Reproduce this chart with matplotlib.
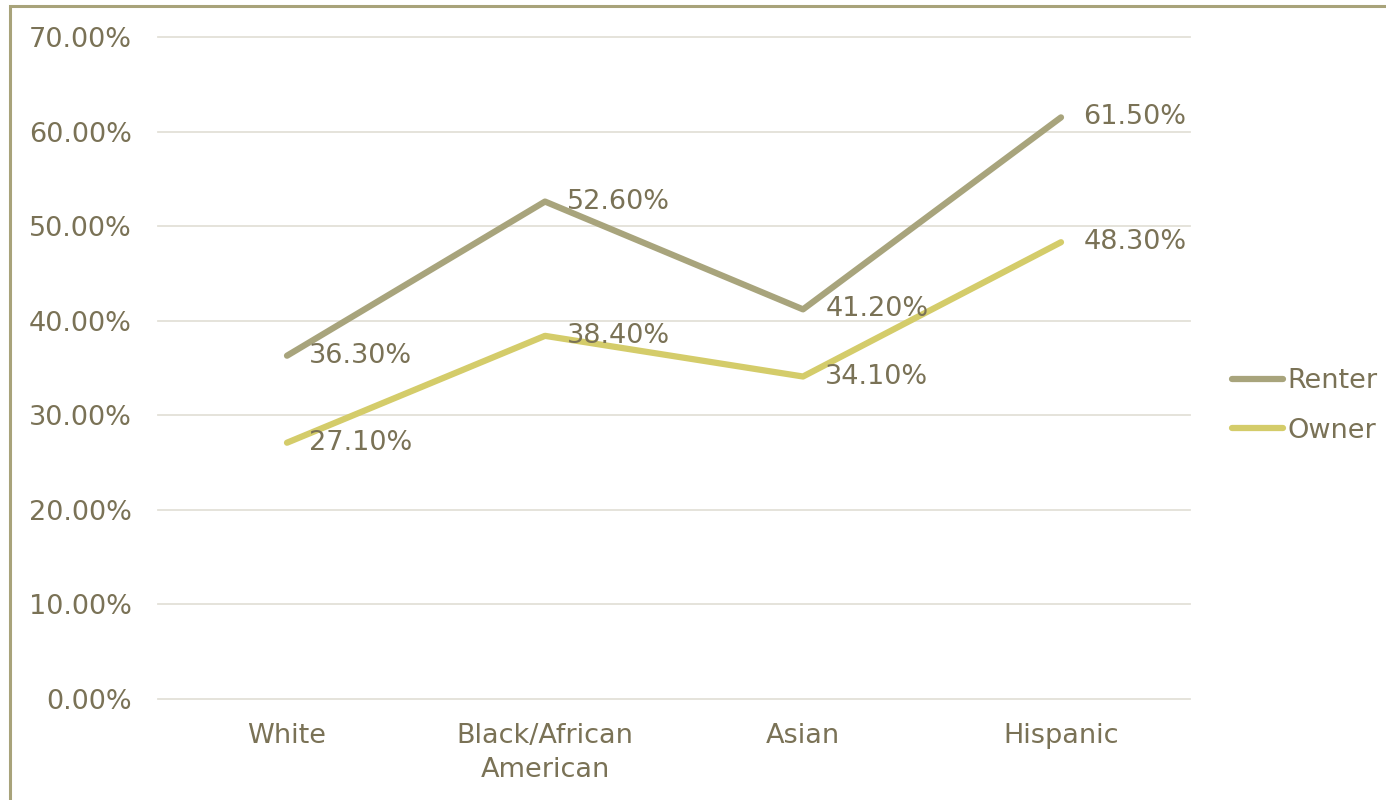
import matplotlib
matplotlib.use("Agg")
import matplotlib.pyplot as plt
from matplotlib.patches import Rectangle
from matplotlib.lines import Line2D

categories = ["White", "Black/African\nAmerican", "Asian", "Hispanic"]
renter = [36.3, 52.6, 41.2, 61.5]
owner = [27.1, 38.4, 34.1, 48.3]
yticks = [0, 10, 20, 30, 40, 50, 60, 70]

text_color = "#7A7256"
renter_color = "#A8A47C"
owner_color = "#D4CC6A"
grid_color = "#E3E1D8"
border_color = "#A8A37A"

plt.rcParams['font.family'] = ['DejaVu Sans']
FS = 19.5

W, H = 1386, 800
fig = plt.figure(figsize=(W / 100, H / 100), dpi=100)
fig.patches.append(Rectangle((10 / W, -0.1), 1.2, 1 - 6 / H + 0.1, transform=fig.transFigure,
                             fill=False, edgecolor=border_color, linewidth=2.2))

ax = fig.add_axes([158 / W, 1 - 699 / H, (1190 - 158) / W, (699 - 37) / H])
x = list(range(len(categories)))
ax.plot(x, renter, color=renter_color, lw=4.5, solid_capstyle='round', solid_joinstyle='round', label="Renter")
ax.plot(x, owner, color=owner_color, lw=4.5, solid_capstyle='round', solid_joinstyle='round', label="Owner")

for xi, v in zip(x, renter):
    ax.annotate(f"{v:.2f}%", (xi, v), xytext=(16, 0), textcoords='offset points',
                va='center', ha='left', fontsize=FS, color=text_color)
for xi, v in zip(x, owner):
    ax.annotate(f"{v:.2f}%", (xi, v), xytext=(16, 0), textcoords='offset points',
                va='center', ha='left', fontsize=FS, color=text_color)

ax.set_xlim(-0.5, 3.5)
ax.set_ylim(0, 70)
ax.set_yticks(yticks)
ax.set_yticklabels([f"{t:.2f}%" for t in yticks])
ax.set_xticks(x)
ax.set_xticklabels(categories, linespacing=1.4)
ax.tick_params(axis='both', length=0, labelsize=FS, labelcolor=text_color)
ax.tick_params(axis='y', pad=19)
ax.tick_params(axis='x', pad=17)
ax.grid(axis='y', color=grid_color, lw=1.3)
for gl in ax.get_ygridlines():
    gl.set_clip_on(False)
ax.set_axisbelow(True)
for s in ax.spines.values():
    s.set_visible(False)

handles = [Line2D([], [], color=renter_color, lw=4.5, solid_capstyle='round'),
           Line2D([], [], color=owner_color, lw=4.5, solid_capstyle='round')]
leg = fig.legend(handles, ["Renter", "Owner"], loc='center left', bbox_to_anchor=(1232 / W, 1 - 406 / H),
                 frameon=False, fontsize=FS, labelcolor=text_color, handlelength=1.9,
                 handletextpad=0.15, labelspacing=0.85, borderpad=0, borderaxespad=0)

fig.savefig("out.png", dpi=100)
